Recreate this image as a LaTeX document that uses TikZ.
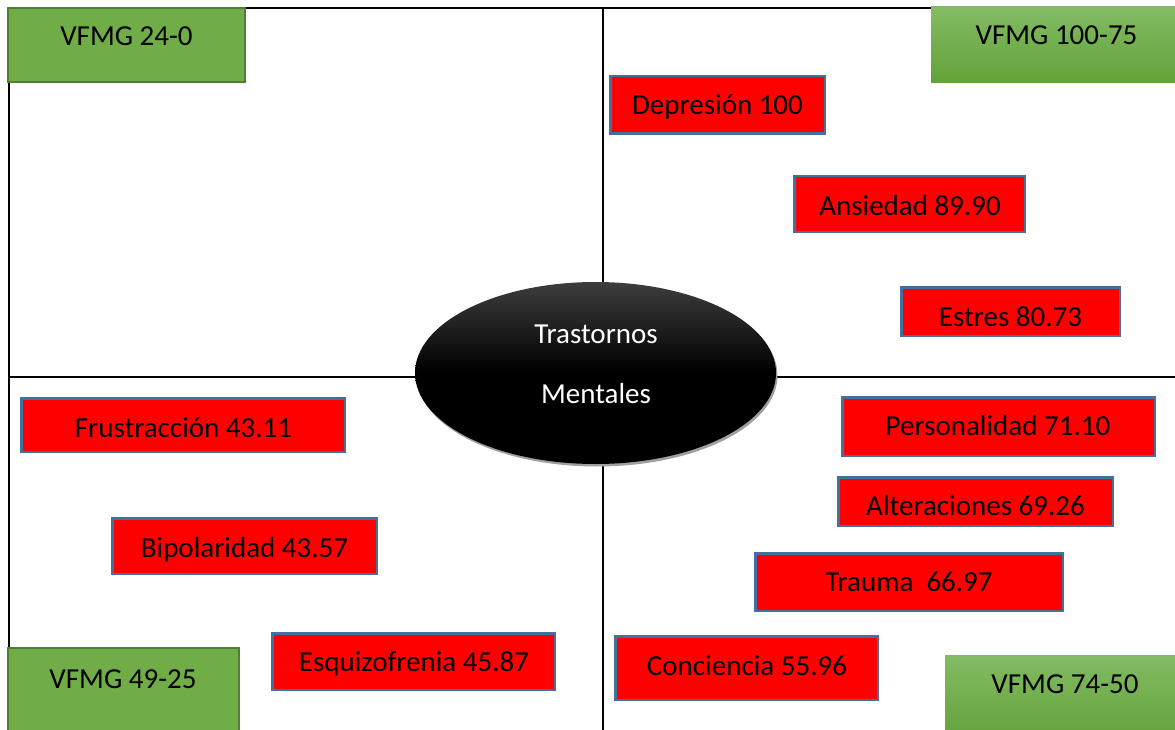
\documentclass[tikz,border=0pt]{standalone}
\usepackage{fontspec}
\setmainfont{Carlito}
\usetikzlibrary{shapes.geometric,shadows}
\definecolor{redline}{HTML}{41719C}
\definecolor{grn}{HTML}{70AD47}
\definecolor{grnline}{HTML}{507E32}
\definecolor{grntop}{HTML}{82BB64}
\definecolor{grnbot}{HTML}{63A238}
\begin{document}
\begin{tikzpicture}[x=1pt,y=-1pt,
  redbox/.style={draw=redline, fill=red, line width=2.5pt, inner sep=0pt},
  flatgreen/.style={draw=grnline, fill=grn, line width=2pt, inner sep=0pt},
  gradgreen/.style={top color=grntop, bottom color=grnbot, draw=none, inner sep=0pt},
  lbl/.style={anchor=base, inner sep=0pt, font=\fontsize{29}{35}\selectfont},
  gridline/.style={line width=2pt, black}]
\useasboundingbox (0,0) rectangle (1175,730);
% frame
\coordinate (tl) at (8,8);
\coordinate (tr) at (1175,8);
\coordinate (bl) at (9,730);
\coordinate (lt) at (9,8);
\coordinate (mt) at (603,8);
\coordinate (mb) at (603,730);
\coordinate (ml) at (9,377);
\coordinate (mr) at (1175,377);
\draw[gridline] (tl) -- (tr);
\draw[gridline] (lt) -- (bl);
\draw[gridline] (mt) -- (mb);
\draw[gridline] (ml) -- (mr);
% central ellipse
\node[ellipse, minimum width=361pt, minimum height=182pt, inner sep=0pt,
      top color=black!76, bottom color=black, middle color=black,
      drop shadow={shadow xshift=1.5pt, shadow yshift=-2.5pt, fill=gray!75, opacity=1}]
      (core) at (595.5,373) {};
\node[lbl, text=white] (core1) at (596,343) {Trastornos};
\node[lbl, text=white] (core2) at (596,403) {Mentales};
% green boxes
\node[flatgreen, minimum width=237pt, minimum height=74pt] (g1) at (126.5,45) {};
\node[lbl] (g1t) at (126.5,46) {VFMG 24-0};
\node[gradgreen, minimum width=244pt, minimum height=76pt] (g2) at (1053,45) {};
\node[lbl] (g2t) at (1056.5,45) {VFMG 100-75};
\node[flatgreen, minimum width=231pt, minimum height=88pt] (g3) at (123.5,692) {};
\node[lbl] (g3t) at (123,688) {VFMG 49-25};
\node[gradgreen, minimum width=230pt, minimum height=85pt] (g4) at (1060,697.5) {};
\node[lbl] (g4t) at (1065,693) {VFMG 74-50};
% red boxes
\node[redbox, minimum width=214.5pt, minimum height=57.5pt] (dep) at (717.5,105) {};
\node[lbl] (dept) at (717.5,115) {Depresión 100};
\node[redbox, minimum width=230.5pt, minimum height=55.5pt] (ans) at (909.5,204) {};
\node[lbl] (anst) at (910,215) {Ansiedad 89.90};
\node[redbox, minimum width=218.5pt, minimum height=48.5pt] (est) at (1010.5,311.5) {};
\node[lbl] (estt) at (1010.5,326) {Estres 80.73};
\node[redbox, minimum width=312.5pt, minimum height=58.5pt] (per) at (998.5,426.5) {};
\node[lbl] (pert) at (998,435) {Personalidad 71.10};
\node[redbox, minimum width=274.5pt, minimum height=48.5pt] (alt) at (975.5,501.5) {};
\node[lbl] (altt) at (975.5,515) {Alteraciones 69.26};
\node[redbox, minimum width=307.5pt, minimum height=57.5pt] (tra) at (909,582) {};
\node[lbl] (trat) at (909,591) {Trauma\ \ 66.97};
\node[redbox, minimum width=262.5pt, minimum height=63.5pt] (con) at (746.5,668) {};
\node[lbl] (cont) at (747,675) {Conciencia 55.96};
\node[redbox, minimum width=323.5pt, minimum height=53.5pt] (fru) at (183,425) {};
\node[lbl] (frut) at (183.5,437) {Frustracción 43.11};
\node[redbox, minimum width=264.5pt, minimum height=55.5pt] (bip) at (244.5,546) {};
\node[lbl] (bipt) at (244.5,557) {Bipolaridad 43.57};
\node[redbox, minimum width=282.5pt, minimum height=56.5pt] (esq) at (413.5,661.5) {};
\node[lbl] (esqt) at (414,671) {Esquizofrenia 45.87};
\end{tikzpicture}
\end{document}
